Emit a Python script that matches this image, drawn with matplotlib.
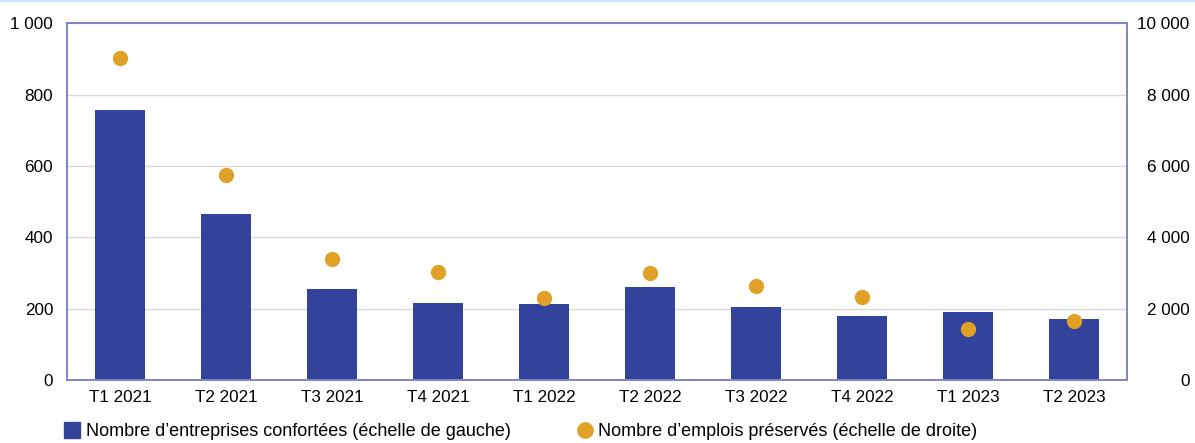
import matplotlib.pyplot as plt
from matplotlib.lines import Line2D

plt.rcParams['font.family'] = ['Liberation Sans', 'DejaVu Sans']

quarters = ['T1 2021', 'T2 2021', 'T3 2021', 'T4 2021', 'T1 2022',
            'T2 2022', 'T3 2022', 'T4 2022', 'T1 2023', 'T2 2023']
entreprises = [757, 465, 254, 217, 213, 262, 204, 180, 192, 171]
emplois = [9040, 5740, 3390, 3030, 2290, 2990, 2640, 2320, 1440, 1650]

left_ticks = [0, 200, 400, 600, 800, 1000]
right_ticks = [0, 2000, 4000, 6000, 8000, 10000]

bar_color = '#33439b'
dot_color = '#e0a126'
frame_color = '#7f86c6'


def fmt(v):
    return f"{v:,}".replace(",", " ")


fig = plt.figure(figsize=(11.95, 4.43), dpi=100)
ax = fig.add_axes([0.0561, 0.1422, 0.887, 0.805])
x = list(range(len(quarters)))

ax.bar(x, entreprises, width=0.47, color=bar_color, zorder=2)
ax.set_xlim(-0.5, len(quarters) - 0.5)
ax.set_ylim(0, 1000)
ax.set_yticks(left_ticks)
ax.set_yticklabels([fmt(v) for v in left_ticks])
ax.set_xticks(x)
ax.set_xticklabels(quarters)
ax.grid(axis='y', color='#d9d9d9', linewidth=1)
ax.set_axisbelow(True)
ax.tick_params(axis='both', length=0, labelsize=12.3, colors='black')
ax.tick_params(axis='y', pad=10)
ax.tick_params(axis='x', pad=7)

ax2 = ax.twinx()
ax2.plot(x, emplois, 'o', color=dot_color, markersize=10, zorder=3)
ax2.set_ylim(0, 10000)
ax2.set_yticks(right_ticks)
ax2.set_yticklabels([fmt(v) for v in right_ticks], ha='right')
ax2.tick_params(axis='y', length=0, labelsize=12.3, pad=45)

for a in (ax, ax2):
    for side in a.spines.values():
        side.set_color(frame_color)
        side.set_linewidth(1.3)

# thin rule along the very top
fig.add_artist(Line2D([0, 1], [0.998, 0.998], transform=fig.transFigure,
                      color='#c8e6f7', linewidth=1.5))

handles = [
    Line2D([], [], marker='s', linestyle='none', color=bar_color, markersize=11),
    Line2D([], [], marker='o', linestyle='none', color=dot_color, markersize=11),
]
labels = ['Nombre d\u2019entreprises confortées (échelle de gauche)',
          'Nombre d\u2019emplois préservés (échelle de droite)']
fig.legend(handles, labels, loc='center left', bbox_to_anchor=(0.046, 0.026),
           ncol=2, frameon=False, fontsize=13, handlelength=0.9,
           handletextpad=0.3, columnspacing=3.65, borderpad=0)

fig.savefig('out.png', dpi=100)
